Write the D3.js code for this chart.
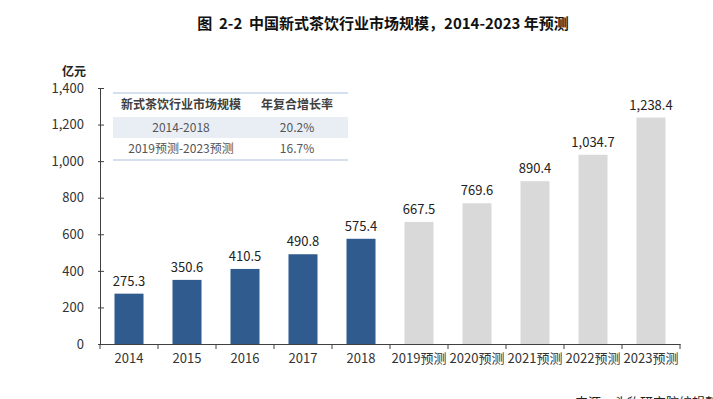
<!DOCTYPE html>
<html>
<head>
<meta charset="utf-8">
<script src="https://cdn.jsdelivr.net/npm/d3@7"></script>
<style>
  body { margin: 0; background: #fff; }
  text { font-family: "Noto Sans CJK SC", "Noto Sans", sans-serif; }
</style>
</head>
<body>
<div id="chart"></div>
<script>
// Data
var years = ["2014", "2015", "2016", "2017", "2018",
    "2019预测", "2020预测", "2021预测", "2022预测", "2023预测"];
var marketSize = [275.3, 350.6, 410.5, 490.8, 575.4, 667.5, 769.6, 890.4, 1034.7, 1238.4];
var isForecast = [false, false, false, false, false, true, true, true, true, true];
var yTicks = [0, 200, 400, 600, 800, 1000, 1200, 1400];

var tableHeader = ["新式茶饮行业市场规模", "年复合增长率"];
var tableRows = [
    ["2014-2018", "20.2%"],
    ["2019预测-2023预测", "16.7%"]
];

var svgWidth = 713;
var svgHeight = 399;

var chartMargin = { top: 88, right: 33, bottom: 55, left: 100 };
var width = svgWidth - chartMargin.left - chartMargin.right;
var height = svgHeight - chartMargin.top - chartMargin.bottom;

var svg = d3.select("#chart")
    .append("svg")
    .attr("width", svgWidth)
    .attr("height", svgHeight);

// Title
svg.append("text")
    .attr("x", 383)
    .attr("y", 29)
    .attr("text-anchor", "middle")
    .attr("font-size", "15px")
    .attr("font-weight", "bold")
    .attr("fill", "#111")
    .attr("xml:space", "preserve")
    .text("图  2-2  中国新式茶饮行业市场规模，2014-2023 年预测");

var chartGroup = svg.append("g")
    .attr("transform", `translate(${chartMargin.left}, ${chartMargin.top})`);

var xScale = d3.scaleBand()
    .domain(years)
    .range([0, width])
    .paddingInner(0.5)
    .paddingOuter(0.25);

var xBoundary = d3.scaleBand()
    .domain(years)
    .range([0, width]);

var yScale = d3.scaleLinear()
    .domain([0, 1400])
    .range([height, 0]);

// Y axis
var yAxis = d3.axisLeft(yScale)
    .tickValues(yTicks)
    .tickFormat(d3.format(","))
    .tickSize(-4)
    .tickPadding(16);

var yG = chartGroup.append("g").call(yAxis);
yG.select(".domain").attr("stroke", "#404040");
yG.selectAll(".tick line").attr("stroke", "#404040").attr("x1", -2);
yG.selectAll(".tick text")
    .attr("font-size", "13px")
    .attr("fill", "#333")
    .style("font-family", "'Noto Sans CJK SC', sans-serif");

chartGroup.append("text")
    .attr("x", -26)
    .attr("y", -12)
    .attr("text-anchor", "middle")
    .attr("font-size", "12px")
    .attr("font-weight", "bold")
    .attr("fill", "#222")
    .text("亿元");

// X axis
var xAxis = d3.axisBottom(xBoundary)
    .tickSize(0)
    .tickPadding(10);

var xG = chartGroup.append("g")
    .attr("transform", `translate(0, ${height})`)
    .call(xAxis);
xG.select(".domain").attr("stroke", "#404040");
xG.selectAll(".tick text")
    .attr("font-size", "13px")
    .attr("fill", "#333")
    .style("font-family", "'Noto Sans CJK SC', sans-serif");

// category boundary ticks
var boundaries = years.map(d => xBoundary(d)).concat([width]);
xG.selectAll(".btick")
    .data(boundaries)
    .enter()
    .append("line")
    .attr("class", "btick")
    .attr("x1", d => d)
    .attr("x2", d => d)
    .attr("y1", 0)
    .attr("y2", 5)
    .attr("stroke", "#404040");

// Bars
chartGroup.selectAll("rect.bar")
    .data(marketSize)
    .enter()
    .append("rect")
    .attr("class", "bar")
    .attr("x", (d, i) => xScale(years[i]))
    .attr("y", d => yScale(d))
    .attr("width", xScale.bandwidth())
    .attr("height", d => height - yScale(d))
    .attr("fill", (d, i) => isForecast[i] ? "#d9d9d9" : "#2f5b8e");

// Value labels
chartGroup.selectAll("text.val")
    .data(marketSize)
    .enter()
    .append("text")
    .attr("class", "val")
    .attr("x", (d, i) => xScale(years[i]) + xScale.bandwidth() / 2)
    .attr("y", d => yScale(d) - 8)
    .attr("text-anchor", "middle")
    .attr("font-size", "13px")
    .attr("fill", "#222")
    .text(d => d3.format(",.1f")(d));

// Table
var tableX = 13, tableW = 235;
var tableTop = 5;
var rowH = [24, 21, 22];
var colCenters = [81, 197];

var tableG = chartGroup.append("g");
tableG.append("rect")
    .attr("x", tableX)
    .attr("y", tableTop + rowH[0])
    .attr("width", tableW)
    .attr("height", rowH[1])
    .attr("fill", "#e9eef5");

tableG.append("line")
    .attr("x1", tableX).attr("x2", tableX + tableW)
    .attr("y1", tableTop).attr("y2", tableTop)
    .attr("stroke", "#a9c2e2").attr("stroke-width", 1.2);
tableG.append("line")
    .attr("x1", tableX).attr("x2", tableX + tableW)
    .attr("y1", tableTop + rowH[0] + rowH[1] + rowH[2])
    .attr("y2", tableTop + rowH[0] + rowH[1] + rowH[2])
    .attr("stroke", "#a9c2e2").attr("stroke-width", 1.2);

tableG.selectAll("text.head")
    .data(tableHeader)
    .enter()
    .append("text")
    .attr("class", "head")
    .attr("x", (d, i) => colCenters[i])
    .attr("y", tableTop + 16)
    .attr("text-anchor", "middle")
    .attr("font-size", "12px")
    .attr("font-weight", "bold")
    .attr("fill", "#404040")
    .text(d => d);

tableRows.forEach(function(row, r) {
    var rowTop = tableTop + rowH[0] + (r === 0 ? 0 : rowH[1]);
    tableG.selectAll("text.row" + r)
        .data(row)
        .enter()
        .append("text")
        .attr("class", "row" + r)
        .attr("x", (d, i) => colCenters[i])
        .attr("y", rowTop + 15)
        .attr("text-anchor", "middle")
        .attr("font-size", "12px")
        .attr("fill", "#555")
        .text(d => d);
});

// Source note (cut off at bottom edge, as in the original)
svg.append("text")
    .attr("x", 575)
    .attr("y", 407)
    .attr("font-size", "13px")
    .attr("fill", "#222")
    .text("来源：头豹研究院编辑整理");
</script>
</body>
</html>
